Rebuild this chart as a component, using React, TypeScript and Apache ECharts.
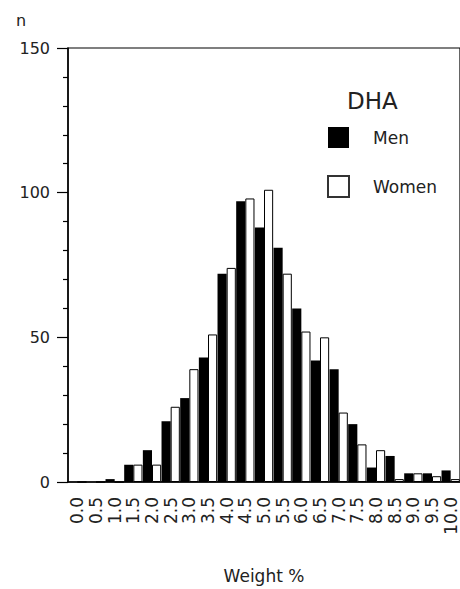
import React, { useEffect, useRef } from "react";
import * as echarts from "echarts";

const categories = ["0.0","0.5","1.0","1.5","2.0","2.5","3.0","3.5","4.0","4.5","5.0","5.5","6.0","6.5","7.0","7.5","8.0","8.5","9.0","9.5","10.0"];
const menValues = [0,0,1,6,11,21,29,43,72,97,88,81,60,42,39,20,5,9,3,3,4];
const womenValues = [0,0,0,6,6,26,39,51,74,98,101,72,52,50,24,13,11,1,3,2,1];
const yTicks = { min: 0, max: 150, interval: 50, minorSplits: 5 };

const FONT = "DejaVu Sans";

export default function App() {
  const ref = useRef<HTMLDivElement>(null);
  useEffect(() => {
    if (!ref.current) return;
    const chart = echarts.init(ref.current, undefined, { renderer: "svg" });
    chart.setOption({
      animation: false,
      backgroundColor: "#fff",
      title: {
        text: "DHA",
        left: 342,
        top: 84,
        textStyle: { fontFamily: FONT, fontSize: 23, fontWeight: "normal", color: "#222" },
      },
      legend: {
        orient: "vertical",
        left: 322,
        top: 122,
        itemWidth: 21,
        itemHeight: 21,
        itemGap: 27,
        icon: "rect",
        textStyle: { fontFamily: FONT, fontSize: 17, color: "#222", padding: [0, 0, 0, 19] },
        data: [
          { name: "Men", itemStyle: { color: "#000", borderWidth: 0 } },
          { name: "Women", itemStyle: { color: "#fff", borderColor: "#333", borderWidth: 2 } },
        ],
      },
      graphic: [
        {
          type: "text",
          left: 16,
          top: 12,
          style: { text: "n", font: `16px '${FONT}'`, fill: "#222" },
        },
      ],
      grid: {
        left: 68,
        top: 48,
        width: 398,
        height: 439,
        show: true,
        borderColor: "#000",
        borderWidth: 1.2,
        backgroundColor: "transparent",
      },
      xAxis: {
        type: "category",
        data: categories,
        name: "Weight %",
        nameLocation: "middle",
        nameGap: 85,
        nameTextStyle: { fontFamily: FONT, fontSize: 17, color: "#222" },
        axisLine: { lineStyle: { color: "#000", width: 1.5 } },
        axisTick: { alignWithLabel: true, length: 10, lineStyle: { color: "#555" } },
        axisLabel: {
          interval: 0,
          rotate: 90,
          margin: 15,
          fontFamily: FONT,
          fontSize: 17,
          color: "#222",
        },
      },
      yAxis: {
        type: "value",
        min: yTicks.min,
        max: yTicks.max,
        interval: yTicks.interval,
        axisLine: { show: true, lineStyle: { color: "#000", width: 1.5 } },
        axisTick: { show: true, length: 11, lineStyle: { color: "#000", width: 1.2 } },
        minorTick: { show: true, splitNumber: yTicks.minorSplits, length: 5, lineStyle: { color: "#000", width: 1.2 } },
        splitLine: { show: false },
        axisLabel: { margin: 18, fontFamily: FONT, fontSize: 16, color: "#222" },
      },
      series: [
        {
          name: "Men",
          type: "bar",
          data: menValues,
          barGap: "0%",
          barCategoryGap: "2%",
          itemStyle: { color: "#000" },
        },
        {
          name: "Women",
          type: "bar",
          data: womenValues,
          itemStyle: { color: "#fff", borderColor: "#000", borderWidth: 1 },
        },
      ],
    });
    return () => chart.dispose();
  }, []);
  return (
    <div
      ref={ref}
      style={{ position: "fixed", left: 0, top: 0, width: 460, height: 589 }}
    />
  );
}
